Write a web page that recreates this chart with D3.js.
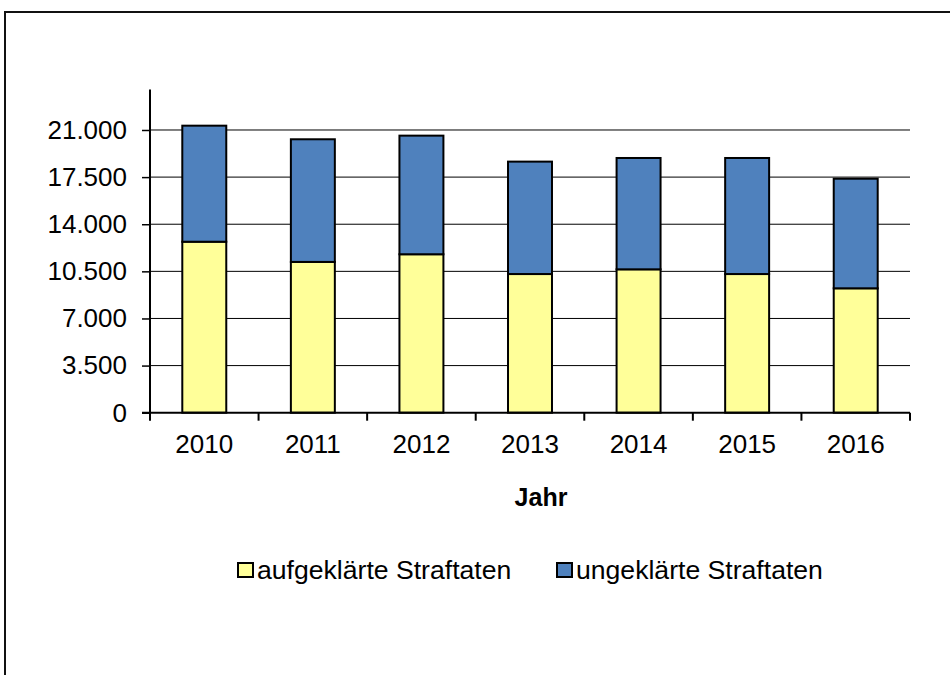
<!DOCTYPE html>
<html>
<head>
<meta charset="utf-8">
<script src="https://cdn.jsdelivr.net/npm/d3@7"></script>
<style>
  html, body { margin: 0; padding: 0; background: #fff; overflow: hidden; }
  svg { display: block; }
</style>
</head>
<body>
<div id="chart"></div>
<script>
// Data
const years = ["2010", "2011", "2012", "2013", "2014", "2015", "2016"];
const aufgeklaert = [12700, 11200, 11770, 10300, 10650, 10300, 9240];
const ungeklaert = [8620, 9110, 8810, 8350, 8270, 8620, 8140];
const yTicks = [0, 3500, 7000, 10500, 14000, 17500, 21000];
const seriesNames = ["aufgeklärte Straftaten", "ungeklärte Straftaten"];
const seriesColors = ["#FFFF99", "#4F81BD"];

const width = 950, height = 675;
const font = "'Liberation Sans', Arial, sans-serif";

const svg = d3.select("#chart").append("svg")
    .attr("width", width)
    .attr("height", height);

// outer frame (runs off the right and bottom edge)
svg.append("rect")
    .attr("x", 5).attr("y", 12)
    .attr("width", 960).attr("height", 700)
    .attr("fill", "#fff")
    .attr("stroke", "#111")
    .attr("stroke-width", 2);

const plot = { left: 150, right: 910, top: 89.6, bottom: 412.7 };

const x = d3.scaleBand()
    .domain(years)
    .range([plot.left, plot.right])
    .paddingInner(0.595)
    .paddingOuter(0.2975);

const y = d3.scaleLinear()
    .domain([0, 24000])
    .range([plot.bottom, plot.top]);

const fmt = v => d3.format(",")(v).replace(/,/g, ".");

// gridlines
svg.append("g")
    .selectAll("line")
    .data(yTicks.filter(d => d > 0))
    .enter().append("line")
    .attr("x1", plot.left).attr("x2", plot.right)
    .attr("y1", d => y(d)).attr("y2", d => y(d))
    .attr("stroke", "#000")
    .attr("stroke-width", 1);

// stacked bars
const rows = years.map((yr, i) => ({ year: yr, a: aufgeklaert[i], u: ungeklaert[i] }));
const stack = d3.stack().keys(["a", "u"])(rows);

svg.append("g")
    .selectAll("g")
    .data(stack)
    .enter().append("g")
    .attr("fill", (d, i) => seriesColors[i])
    .selectAll("rect")
    .data(d => d)
    .enter().append("rect")
    .attr("x", d => x(d.data.year))
    .attr("width", x.bandwidth())
    .attr("y", d => y(d[1]))
    .attr("height", d => y(d[0]) - y(d[1]))
    .attr("stroke", "#000")
    .attr("stroke-width", 2);

// y axis
const yAxis = svg.append("g")
    .attr("transform", `translate(${plot.left},0)`)
    .call(d3.axisLeft(y).tickValues(yTicks).tickFormat(fmt).tickSize(8).tickPadding(15));
yAxis.select(".domain").remove();
yAxis.selectAll(".tick line").attr("stroke", "#000").attr("stroke-width", 1.5);
yAxis.selectAll("text")
    .attr("font-family", font)
    .attr("font-size", "26px")
    .attr("fill", "#000");
svg.append("line")
    .attr("x1", plot.left).attr("x2", plot.left)
    .attr("y1", plot.top).attr("y2", plot.bottom + 8)
    .attr("stroke", "#000").attr("stroke-width", 2);

// x axis
svg.append("line")
    .attr("x1", plot.left - 8).attr("x2", plot.right)
    .attr("y1", plot.bottom).attr("y2", plot.bottom)
    .attr("stroke", "#000").attr("stroke-width", 2);

const step = x.step();
const bounds = years.map(d => x(d) - step * x.paddingInner() / 2).concat([plot.right]);
svg.append("g")
    .selectAll("line")
    .data(bounds.slice(1))
    .enter().append("line")
    .attr("x1", d => d).attr("x2", d => d)
    .attr("y1", plot.bottom).attr("y2", plot.bottom + 8)
    .attr("stroke", "#000").attr("stroke-width", 2);

svg.append("g")
    .selectAll("text")
    .data(years)
    .enter().append("text")
    .attr("x", d => x(d) + x.bandwidth() / 2)
    .attr("y", 453)
    .attr("text-anchor", "middle")
    .attr("font-family", font)
    .attr("font-size", "26px")
    .text(d => d);

// axis title
svg.append("text")
    .attr("x", 541)
    .attr("y", 506)
    .attr("text-anchor", "middle")
    .attr("font-family", font)
    .attr("font-size", "25px")
    .attr("font-weight", "bold")
    .text("Jahr");

// legend
const legendX = [238, 557];
const legend = svg.append("g")
    .selectAll("g")
    .data(seriesNames)
    .enter().append("g")
    .attr("transform", (d, i) => `translate(${legendX[i]},563)`);
legend.append("rect")
    .attr("width", 15).attr("height", 14)
    .attr("fill", (d, i) => seriesColors[i])
    .attr("stroke", "#000")
    .attr("stroke-width", 2);
legend.append("text")
    .attr("x", 19)
    .attr("y", 16)
    .attr("font-family", font)
    .attr("font-size", "26.6px")
    .text(d => d);
</script>
</body>
</html>
